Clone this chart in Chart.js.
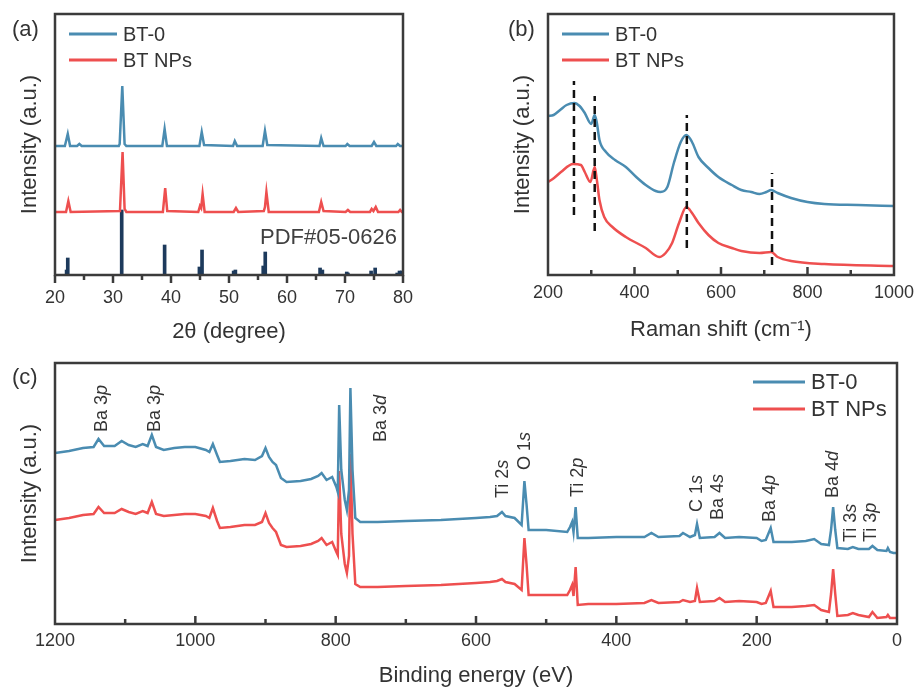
<!DOCTYPE html>
<html>
<head>
<meta charset="utf-8">
<script src="https://cdn.jsdelivr.net/npm/chart.js@4.4.1/dist/chart.umd.min.js"></script>
<style>
  html, body { margin: 0; padding: 0; background: #fff; }
  #wrap { position: relative; width: 921px; height: 691px; }
  canvas { position: absolute; }
</style>
</head>
<body>
<div id="wrap">
  <canvas id="chartA" width="460" height="345" style="left:0;top:0"></canvas>
  <canvas id="chartB" width="461" height="345" style="left:460px;top:0"></canvas>
  <canvas id="chartC" width="921" height="346" style="left:0;top:345px"></canvas>
</div>
<script>
// --- (a) XRD ---
const xrdBlueX = [20, 21.7, 22.2, 22.6, 23.8, 24.2, 24.6, 31.0, 31.15, 31.6, 32.0, 32.3, 38.5, 38.9, 39.3, 44.9, 45.3, 45.7,
  50.7, 51.0, 51.4, 55.8, 56.2, 56.6, 65.6, 65.9, 66.3, 70.1, 70.4, 70.8, 74.6, 75.0, 75.4, 78.8, 79.1, 79.5, 80];
const xrdBlueY = [129, 129, 141, 129, 129, 131, 129, 129, 131, 189, 131, 129, 129, 146, 129, 129, 143, 130,
  129, 134, 129, 129, 144, 130, 129, 137, 129, 129, 131, 129, 129, 133, 129, 129, 131, 129, 129];
const xrdRedX = [20, 21.9, 22.3, 22.7, 31.2, 31.65, 32.0, 32.3, 38.6, 39.0, 39.35, 44.7, 45.0, 45.2, 45.45, 45.8,
  50.8, 51.2, 51.6, 56.0, 56.2, 56.45, 56.85, 65.5, 65.9, 66.3, 70.1, 70.5, 70.9, 74.3, 74.6, 74.9, 75.3, 75.7,
  79.2, 79.5, 79.8, 80];
const xrdRedY = [63, 63, 74, 63, 64, 123, 66, 63, 63, 87, 64, 63, 69, 67, 81, 63,
  63, 67, 63, 64, 68, 83, 63, 63, 73, 64, 63, 65, 63, 63, 66, 64, 68, 63,
  63, 65, 63, 63];
const pdfX = [22.0, 22.2, 31.5, 38.9, 44.9, 45.35, 50.8, 51.1, 55.9, 56.25, 65.7, 66.1, 70.3, 70.5, 74.5, 75.2, 79.0, 79.4, 79.8];
const pdfY = [5, 17, 65, 30, 8, 25, 4, 5, 9, 23, 7, 5, 3, 2, 4, 7, 2, 4, 4];

// --- (b) Raman ---
const ramanBlueX = [200, 213, 228, 243, 261, 273, 285, 300, 308, 313, 319, 334, 355, 380, 404, 426, 449, 460, 476, 491,
  507, 520, 533, 548, 571, 594, 625, 647, 670, 689, 705, 716, 731, 762, 800, 839, 917, 1000];
const ramanBlueY = [159, 160, 165, 170, 172, 169, 162, 151, 160, 152, 135, 123, 115, 108, 98, 90, 84, 83, 88, 112,
  133, 140, 133, 118, 107, 98, 90, 85, 83, 81, 83, 85, 82, 77, 73, 71, 70, 69];
const ramanRedX = [200, 214, 230, 258, 276, 285, 298, 308, 313, 319, 330, 349, 380, 426, 457, 472, 487, 503, 520,
  533, 548, 571, 594, 625, 647, 689, 716, 731, 762, 839, 1000];
const ramanRedY = [93, 97, 103, 111, 110, 103, 93, 108, 95, 75, 58, 48, 38, 27, 18, 22, 32, 52, 68,
  62, 52, 40, 32, 27, 24, 22, 23, 18, 14, 11, 9];
const ramanMarkX = [260, 308, 521, 718];
const ramanMarkTop = [194, 179, 160, 102];
const ramanMarkBottom = [60, 44, 27, 10];

// --- (c) XPS survey ---
const xpsEnergy = [1200, 1180, 1160, 1145, 1138, 1130, 1115, 1105, 1095, 1085,
  1075, 1068, 1062, 1056, 1045, 1030, 1015, 1000, 985, 980,
  975, 969, 965, 950, 930, 915, 905, 900, 895, 890,
  885, 878, 870, 850, 835, 825, 820, 813, 805, 799,
  797, 795, 792, 787, 784, 781, 779, 776, 772, 765,
  740, 700, 650, 600, 580, 570, 563, 558, 545, 535,
  531, 528, 525, 500, 470, 466, 463, 461, 458, 455,
  440, 400, 360, 350, 340, 310, 305, 295, 288, 285,
  281, 260, 253, 245, 225, 200, 193, 187, 180, 176,
  150, 130, 118, 108, 97, 94, 91, 88, 85, 70,
  63, 55, 40, 35, 28, 15, 13, 10, 5, 0];
const xpsBlue = [171, 173, 176, 177, 185, 178, 178, 183, 179, 177,
  180, 178, 189, 177, 174, 176, 177, 177, 174, 172,
  180, 169, 162, 163, 165, 164, 168, 176, 167, 162,
  159, 146, 142, 143, 145, 148, 151, 144, 147, 137,
  132, 219, 154, 124, 114, 134, 236, 154, 106, 102,
  102, 103, 104, 106, 107, 108, 112, 108, 106, 99,
  143, 120, 94, 94, 92, 97, 102, 92, 117, 86,
  86, 87, 87, 91, 87, 88, 91, 87, 89, 100,
  86, 87, 91, 86, 87, 86, 83, 84, 96, 82,
  82, 83, 85, 80, 79, 94, 117, 94, 76, 75,
  77, 75, 75, 78, 74, 73, 76, 72, 71, 71];
const xpsRed = [104, 106, 109, 110, 117, 111, 111, 115, 112, 110,
  113, 111, 122, 110, 108, 109, 110, 110, 108, 106,
  116, 103, 96, 97, 99, 99, 102, 111, 101, 96,
  92, 79, 77, 78, 80, 83, 86, 79, 82, 72,
  69, 153, 90, 60, 51, 68, 170, 90, 40, 37,
  37, 38, 39, 41, 42, 43, 45, 42, 40, 34,
  86, 60, 29, 29, 29, 34, 39, 28, 57, 19,
  20, 20, 21, 24, 21, 22, 24, 22, 23, 36,
  22, 23, 26, 22, 23, 22, 20, 21, 33, 17,
  17, 18, 19, 14, 12, 30, 55, 30, 8, 9,
  11, 9, 7, 12, 6, 7, 9, 6, 6, 6];
const xpsPeakName = ['Ba', 'Ba', 'Ba', 'Ti', 'O', 'Ti', 'C', 'Ba', 'Ba', 'Ba', 'Ti', 'Ti'];
const xpsPeakLevel = ['3', '3', '3', '2', '1', '2', '1', '4', '4', '4', '3', '3'];
const xpsPeakShell = ['p', 'p', 'd', 's', 's', 'p', 's', 's', 'p', 'd', 's', 'p'];
const xpsPeakEnergy = [1133, 1057, 735, 562, 530, 455, 285, 255, 181, 91, 66, 37];
const xpsPeakLabelY = [192, 192, 182, 126, 154, 127, 112, 104, 102, 126, 82, 82];

const seriesNames = ['BT-0', 'BT NPs'];

const BLUE = '#4a8cb1';
const RED = '#ee4f4f';
const NAVY = '#1d3a5c';
const FRAME = '#3b3b3b';
const TEXT = '#333333';
const FONT = "'Liberation Sans', Arial, sans-serif";

const pts = (xs, ys) => xs.map((x, i) => ({ x: x, y: ys[i] }));

function curve(label, xs, ys, color, smooth) {
  const ds = {
    label: label, data: pts(xs, ys), borderColor: color, backgroundColor: color,
    borderWidth: 2.5, pointRadius: 0, tension: 0, fill: false, inLegend: true
  };
  if (smooth) ds.cubicInterpolationMode = 'monotone';
  return ds;
}

// frame, ticks, panel letter, legend and extra labels
const framePlugin = {
  id: 'frame',
  afterDatasetsDraw(chart, args, opts) {
    const { ctx, chartArea: a } = chart;
    const x = chart.scales.x;
    ctx.save();
    ctx.strokeStyle = FRAME;
    ctx.lineWidth = 2.5;
    const dir = opts.inward ? -1 : 1;
    const tick = (v, len) => {
      const px = x.getPixelForValue(v);
      ctx.beginPath();
      ctx.moveTo(px, a.bottom);
      ctx.lineTo(px, a.bottom + dir * len);
      ctx.stroke();
    };
    opts.major.forEach(v => tick(v, 8));
    opts.minor.forEach(v => tick(v, 5));
    ctx.strokeRect(a.left, a.top, a.right - a.left, a.bottom - a.top);

    ctx.fillStyle = TEXT;
    ctx.textBaseline = 'middle';
    ctx.textAlign = 'left';
    ctx.font = '22px ' + FONT;
    ctx.fillText(opts.letter[0], opts.letter[1], opts.letter[2]);

    // legend
    const lg = opts.legend;
    ctx.font = lg.size + 'px ' + FONT;
    let row = 0;
    chart.data.datasets.forEach(ds => {
      if (!ds.inLegend) return;
      const y = lg.y + row * lg.gap;
      ctx.strokeStyle = ds.borderColor;
      ctx.lineWidth = 3;
      ctx.beginPath();
      ctx.moveTo(lg.x, y);
      ctx.lineTo(lg.x + lg.len, y);
      ctx.stroke();
      ctx.fillText(ds.label, lg.x + lg.len + 6, y + 1);
      row++;
    });

    if (opts.note) {
      ctx.font = '22px ' + FONT;
      ctx.fillStyle = '#404040';
      ctx.textAlign = 'right';
      ctx.fillText(opts.note[0], opts.note[1], opts.note[2]);
    }
    ctx.restore();
  }
};

const peakLabelPlugin = {
  id: 'peakLabels',
  afterDatasetsDraw(chart) {
    const { ctx } = chart;
    const x = chart.scales.x, y = chart.scales.y;
    ctx.save();
    ctx.fillStyle = TEXT;
    ctx.textBaseline = 'middle';
    ctx.textAlign = 'left';
    xpsPeakEnergy.forEach((e, i) => {
      ctx.save();
      ctx.translate(x.getPixelForValue(e), y.getPixelForValue(xpsPeakLabelY[i]));
      ctx.rotate(-Math.PI / 2);
      ctx.font = '18px ' + FONT;
      const head = xpsPeakName[i] + ' ' + xpsPeakLevel[i];
      ctx.fillText(head, 0, 0);
      const w = ctx.measureText(head).width;
      ctx.font = 'italic 18px ' + FONT;
      ctx.fillText(xpsPeakShell[i], w, 0);
      ctx.restore();
    });
    ctx.restore();
  }
};

function xAxis(min, max, step, title, pad, height, titlePad, reverse) {
  return {
    type: 'linear', min: min, max: max, reverse: !!reverse, offset: false,
    grid: { display: false, drawTicks: false }, border: { display: false },
    ticks: {
      stepSize: step, padding: pad, color: TEXT, font: { size: 18, family: FONT }, maxRotation: 0, autoSkip: false,
      callback: v => String(v)
    },
    title: { display: true, text: title, color: TEXT, font: { size: 22, family: FONT }, padding: { top: 0, bottom: titlePad } },
    afterFit: s => { s.height = height; }
  };
}

function yAxis(width, titlePad) {
  return {
    min: 0, max: 261,
    grid: { display: false, drawTicks: false }, border: { display: false },
    ticks: { display: false },
    title: { display: true, text: 'Intensity (a.u.)', color: TEXT, font: { size: 22, family: FONT }, padding: { top: titlePad, bottom: 0 } },
    afterFit: s => { s.width = width; }
  };
}

const common = {
  responsive: false,
  animation: false,
  events: [],
  plugins: { legend: { display: false }, tooltip: { enabled: false } }
};

// (a)
new Chart(document.getElementById('chartA'), {
  type: 'line',
  data: {
    datasets: [
      curve(seriesNames[0], xrdBlueX, xrdBlueY, BLUE),
      curve(seriesNames[1], xrdRedX, xrdRedY, RED),
      { type: 'bar', label: 'PDF#05-0626', data: pts(pdfX, pdfY), backgroundColor: NAVY, barThickness: 3, grouped: false }
    ]
  },
  options: Object.assign({}, common, {
    layout: { padding: { top: 14, right: 57, bottom: 0, left: 0 } },
    scales: { x: xAxis(20, 80, 10, '2θ (degree)', 12, 70, 0), y: yAxis(55, 17) },
    plugins: Object.assign({}, common.plugins, {
      frame: {
        inward: false,
        major: [20, 30, 40, 50, 60, 70, 80], minor: [25, 35, 45, 55, 65, 75],
        letter: ['(a)', 12, 30],
        legend: { x: 69, y: 34, len: 48, gap: 26, size: 20 },
        note: ['PDF#05-0626', 397, 238]
      }
    })
  }),
  plugins: [framePlugin]
});

// (b)
const markSets = ramanMarkX.map((v, i) => ({
  data: [{ x: v, y: ramanMarkBottom[i] }, { x: v, y: ramanMarkTop[i] }],
  borderColor: '#111', borderWidth: 2.5, borderDash: [8, 5], pointRadius: 0, fill: false
}));
new Chart(document.getElementById('chartB'), {
  type: 'line',
  data: {
    datasets: [
      ...markSets,
      curve(seriesNames[0], ramanBlueX, ramanBlueY, BLUE, true),
      curve(seriesNames[1], ramanRedX, ramanRedY, RED, true)
    ]
  },
  options: Object.assign({}, common, {
    layout: { padding: { top: 14, right: 24, bottom: 0, left: 0 } },
    scales: { x: xAxis(200, 1000, 200, 'Raman shift (cm⁻¹)', 7, 70, 2), y: yAxis(88, 50) },
    plugins: Object.assign({}, common.plugins, {
      frame: {
        inward: true,
        major: [400, 600, 800], minor: [300, 500, 700, 900],
        letter: ['(b)', 48, 30],
        legend: { x: 102, y: 34, len: 47, gap: 26, size: 20 }
      }
    })
  }),
  plugins: [framePlugin]
});

// (c)
new Chart(document.getElementById('chartC'), {
  type: 'line',
  data: {
    datasets: [
      curve(seriesNames[0], xpsEnergy, xpsBlue, BLUE),
      curve(seriesNames[1], xpsEnergy, xpsRed, RED)
    ]
  },
  options: Object.assign({}, common, {
    layout: { padding: { top: 18, right: 24, bottom: 0, left: 0 } },
    scales: { x: xAxis(0, 1200, 200, 'Binding energy (eV)', 6, 67, 2, true), y: yAxis(55, 17) },
    plugins: Object.assign({}, common.plugins, {
      frame: {
        inward: true,
        major: [200, 400, 600, 800, 1000], minor: [100, 300, 500, 700, 900, 1100],
        letter: ['(c)', 12, 33],
        legend: { x: 753, y: 37, len: 52, gap: 27, size: 22 }
      }
    })
  }),
  plugins: [framePlugin, peakLabelPlugin]
});
</script>
</body>
</html>
